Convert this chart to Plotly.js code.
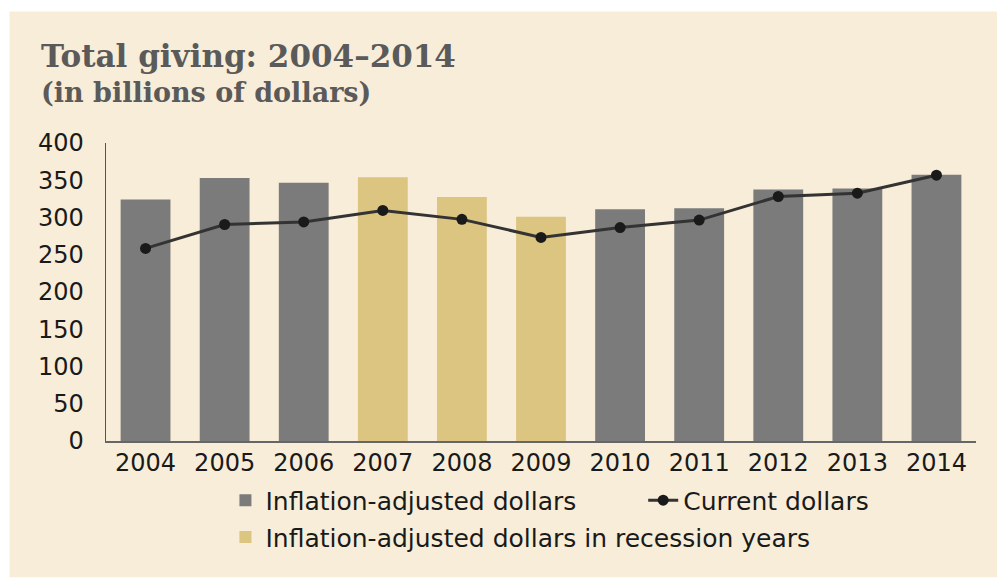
<!DOCTYPE html>
<html>
<head>
<meta charset="utf-8">
<script src="https://cdn.plot.ly/plotly-3.0.1.min.js"></script>
<style>html,body{margin:0;padding:0;background:#fff;}#chart{width:997px;height:578px;}</style>
</head>
<body>
<div id="chart"></div>
<script>
const years = ['2004','2005','2006','2007','2008','2009','2010','2011','2012','2013','2014'];
const inflationAdjusted = [324, 353, 346.5, 354, 327.5, 301, 311, 312.5, 337.5, 339, 357.5];
const currentDollars = [258.5, 290.6, 294, 309.5, 297.5, 273.3, 286.5, 296.5, 328.2, 332.6, 356.8];
const recessionYears = ['2007','2008','2009'];

const normalX = [], normalY = [], recX = [], recY = [];
years.forEach((yr, i) => {
  if (recessionYears.includes(yr)) { recX.push(yr); recY.push(inflationAdjusted[i]); }
  else { normalX.push(yr); normalY.push(inflationAdjusted[i]); }
});

const GRAY = '#7b7b7b', GOLD = '#dcc481';
const FONT = 'DejaVu Sans, Verdana, sans-serif';
const LEGFONT = {family:FONT, size:25, color:'#1a1a1a'};

const traces = [
  {type:'bar', x: normalX, y: normalY, name:'Inflation-adjusted dollars',
   marker:{color:GRAY}, legend:'legend'},
  {type:'scatter', mode:'lines+markers', x: years, y: currentDollars, name:'Current dollars',
   line:{color:'#333333', width:3}, marker:{color:'#1a1a1a', size:11}, legend:'legend3'},
  {type:'bar', x: recX, y: recY, name:'Inflation-adjusted dollars in recession years',
   marker:{color:GOLD}, legend:'legend2'}
];

const px2x = p => (p - 105.5) / 870.5;
const px2y = p => (441.4 - p) / 298.7;

const layout = {
  width:997, height:578,
  margin:{l:105.5, r:21, t:142.7, b:136.6},
  paper_bgcolor:'#ffffff', plot_bgcolor:'rgba(0,0,0,0)',
  font:{family:FONT, color:'#1a1a1a', size:24},
  bargap:0.37, barmode:'overlay',
  shapes:[{type:'rect', xref:'paper', yref:'paper', layer:'below',
    x0:px2x(9), x1:px2x(997), y0:px2y(578), y1:px2y(11),
    fillcolor:'#f8edd8', line:{width:0}}],
  xaxis:{type:'category', categoryorder:'array', categoryarray: years, range:[-0.5,10.5],
    showline:true, linecolor:'#666', linewidth:1.5, showgrid:false, zeroline:false,
    ticks:'', ticklabelstandoff:0, tickfont:{family:FONT, size:24, color:'#1a1a1a'}, fixedrange:true},
  yaxis:{range:[0,400], dtick:50, showline:true, linecolor:'#555', linewidth:1.5,
    showgrid:false, zeroline:false, ticks:'', ticklabelstandoff:16,
    tickfont:{family:FONT, size:24, color:'#1a1a1a'}, fixedrange:true},
  legend:{orientation:'h', x:px2x(225), xanchor:'left', y:px2y(501), yanchor:'middle',
    bgcolor:'rgba(0,0,0,0)', font:LEGFONT},
  legend3:{orientation:'h', x:px2x(643), xanchor:'left', y:px2y(501), yanchor:'middle',
    bgcolor:'rgba(0,0,0,0)', font:LEGFONT},
  legend2:{orientation:'h', x:px2x(225), xanchor:'left', y:px2y(538), yanchor:'middle',
    bgcolor:'rgba(0,0,0,0)', font:LEGFONT},
  annotations:[
    {text:'<b>Total giving: 2004–2014</b>', xref:'paper', yref:'paper',
     x:px2x(38), xanchor:'left', y:px2y(55), yanchor:'middle', showarrow:false,
     font:{family:'DejaVu Serif, serif', size:31, color:'#5a5a5a'}},
    {text:'<b>(in billions of dollars)</b>', xref:'paper', yref:'paper',
     x:px2x(38), xanchor:'left', y:px2y(92), yanchor:'middle', showarrow:false,
     font:{family:'DejaVu Serif, serif', size:27, color:'#5a5a5a'}}
  ],
  showlegend:true
};

Plotly.newPlot('chart', traces, layout, {displayModeBar:false, staticPlot:true});
</script>
</body>
</html>
